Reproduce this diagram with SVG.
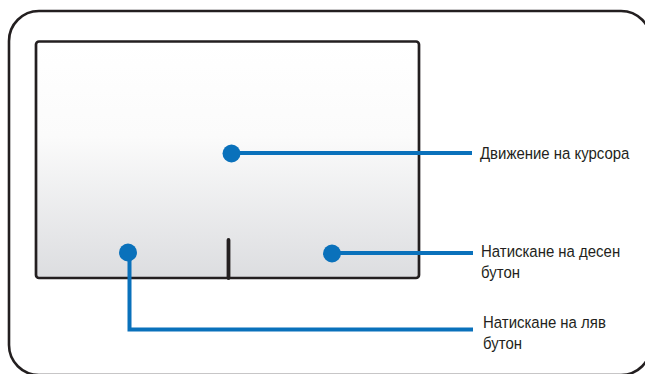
<svg xmlns="http://www.w3.org/2000/svg" width="645" height="374" viewBox="0 0 645 374">
<style>
.frame{fill:none;stroke:#231f20;stroke-width:2.6}
.lead{fill:none;stroke:#0a71bb;stroke-width:4}
.dot{fill:#0a71bb}
.lbl{font-family:"Liberation Sans","Arial",sans-serif;font-size:17px;fill:#231f20}
</style>
<defs>
<linearGradient id="pad" x1="0" y1="0" x2="0" y2="1">
<stop offset="0" stop-color="#ffffff"/>
<stop offset="0.4" stop-color="#fbfbfb"/>
<stop offset="1" stop-color="#dcdde0"/>
</linearGradient>
</defs>
<rect width="645" height="374" fill="#ffffff"/>
<g id="outer-frame">
<rect class="frame" x="9" y="11" width="642" height="364" rx="30" ry="30"/>
</g>
<g id="touchpad">
<rect x="36" y="41.5" width="383" height="236.5" rx="3" ry="3" fill="url(#pad)" stroke="#231f20" stroke-width="2.7"/>
<line x1="228.5" y1="240" x2="228.5" y2="278" stroke="#231f20" stroke-width="3.8" stroke-linecap="round"/>
</g>
<g id="connectors">
<polyline class="lead" points="231,153 472,153"/>
<polyline class="lead" points="332,253 473,253"/>
<polyline class="lead" points="129.5,253 129.5,329.5 473,329.5"/>
</g>
<g id="cursor-node">
<circle class="dot" cx="231.5" cy="153.5" r="9"/>
<text class="lbl" transform="translate(480 158.5) scale(0.88 1)" x="0" y="0">Движение на курсора</text>
</g>
<g id="right-button-node">
<circle class="dot" cx="332" cy="253.5" r="9"/>
<text class="lbl" transform="translate(481 256.5) scale(0.88 1)" x="0" y="0">Натискане на десен</text>
<text class="lbl" transform="translate(481 277.5) scale(0.88 1)" x="0" y="0">бутон</text>
</g>
<g id="left-button-node">
<circle class="dot" cx="128" cy="252.5" r="9"/>
<text class="lbl" transform="translate(483 327.5) scale(0.88 1)" x="0" y="0">Натискане на ляв</text>
<text class="lbl" transform="translate(483 348.5) scale(0.88 1)" x="0" y="0">бутон</text>
</g>
</svg>
